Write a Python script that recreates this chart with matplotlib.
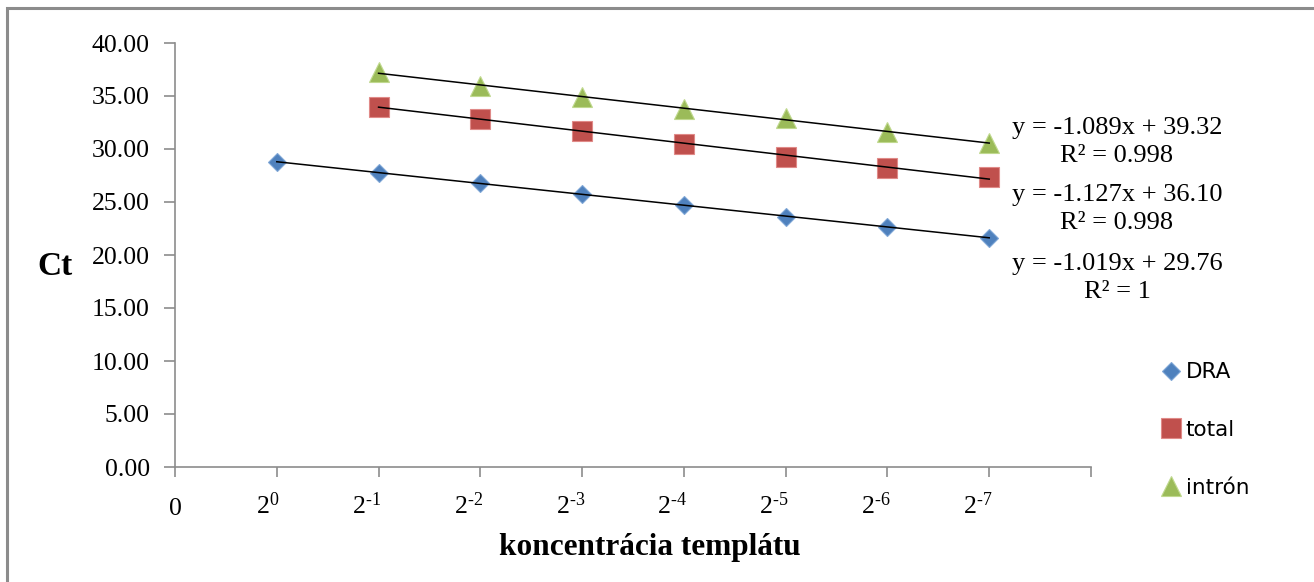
import numpy as np
import matplotlib
matplotlib.use("Agg")
import matplotlib.pyplot as plt
from matplotlib.patches import Rectangle
from matplotlib.transforms import ScaledTranslation

plt.rcParams["font.family"] = ["Liberation Serif", "DejaVu Serif"]
plt.rcParams["mathtext.fontset"] = "custom"
plt.rcParams["mathtext.rm"] = "Liberation Serif"
plt.rcParams["mathtext.it"] = "Liberation Serif:italic"

# data (x = position of dilution step)
x_dra = [1, 2, 3, 4, 5, 6, 7, 8]
ct_dra = [28.80, 27.77, 26.76, 25.72, 24.71, 23.62, 22.67, 21.63]
x_total = [2, 3, 4, 5, 6, 7, 8]
ct_total = [34.00, 32.83, 31.73, 30.50, 29.27, 28.18, 27.36]
x_intron = [2, 3, 4, 5, 6, 7, 8]
ct_intron = [37.25, 35.93, 34.90, 33.80, 32.93, 31.60, 30.55]

tick_pos = list(range(10))
tick_labels = ["0", r"$\mathrm{2}^{\mathrm{0}}$"] + \
    [r"$\mathrm{2}^{\text{-%d}}$" % i for i in range(1, 8)] + [""]
equations = ["y = -1.089x + 39.32\nR² = 0.998",
             "y = -1.127x + 36.10\nR² = 0.998",
             "y = -1.019x + 29.76\nR² = 1"]

fig = plt.figure(figsize=(13.14, 5.82), dpi=100)
ax = fig.add_axes([175 / 1314, 1 - 467 / 582, (1091 - 175) / 1314, (467 - 43) / 582])

# outer chart border (only left and top visible in the crop)
fig.patches.append(Rectangle((7 / 1314, -0.1), 1.2, (582 - 8) / 582 + 0.1,
                             transform=fig.transFigure, fill=False,
                             edgecolor="#8c8c8c", linewidth=2.2))

series = [
    (x_dra, ct_dra, "D", 13.5 / 1.414, "#4f81bd", "#7fa6d6", "DRA"),
    (x_total, ct_total, "s", 14.5, "#c0504d", "#e08a88", "total"),
    (x_intron, ct_intron, "^", 14.5, "#9bbb59", "#c0d98f", "intrón"),
]
for xs, ys, m, ms, c, ec, lab in series:
    ax.plot(xs, ys, linestyle="none", marker=m, markersize=ms, color=c,
            markeredgecolor=ec, markeredgewidth=0.8, label=lab, zorder=3)
    k, b = np.polyfit(xs, ys, 1)
    xx = np.array([xs[0], xs[-1]])
    ax.plot(xx, k * xx + b, color="black", linewidth=1.1, zorder=4)

ax.set_xlim(0, 9)
ax.set_ylim(0, 40)
ax.set_yticks(np.arange(0, 41, 5))
ax.set_yticklabels([f"{v:.2f}" for v in np.arange(0, 41, 5)])
ax.set_xticks(tick_pos)
ax.set_xticklabels(tick_labels)

for s in ["top", "right"]:
    ax.spines[s].set_visible(False)
for s in ["left", "bottom"]:
    ax.spines[s].set_color("#8c8c8c")
    ax.spines[s].set_linewidth(1.2)
ax.tick_params(axis="y", length=8, width=1.2, color="#8c8c8c", labelsize=18.5, pad=10)
ax.tick_params(axis="x", length=7, width=1.2, color="#8c8c8c", labelsize=18.5, pad=11)

# power labels sit a bit left of their ticks, like in the original
shift = ScaledTranslation(3 / 100, 0, fig.dpi_scale_trans)
for i, lbl in enumerate(ax.get_xticklabels()):
    if i == 0:
        lbl.set_transform(lbl.get_transform() + ScaledTranslation(0, -6 / 100, fig.dpi_scale_trans))
    else:
        lbl.set_horizontalalignment("right")
        lbl.set_transform(lbl.get_transform() + shift)

ax.set_xlabel("koncentrácia templátu", fontsize=22.5, fontweight="bold", labelpad=12)
ax.xaxis.set_label_coords((650 - 175) / 916, -0.155)
fig.text(55 / 1314, 1 - 267 / 582, "Ct", fontsize=24, fontweight="bold",
         ha="center", va="center")

eq_y = [142, 209, 278]
for txt, yy in zip(equations, eq_y):
    fig.text(1117 / 1314, 1 - yy / 582, txt, fontsize=19, ha="center", va="center",
             linespacing=1.3)

leg = ax.legend(loc="center left", bbox_to_anchor=(1149 / 1314, 1 - 430 / 582),
                bbox_transform=fig.transFigure, frameon=False, handletextpad=0.2,
                labelspacing=1.75, handlelength=1.0, borderpad=0,
                prop={"family": ["DejaVu Sans"], "size": 15.5})

fig.savefig("out.png", dpi=100)
